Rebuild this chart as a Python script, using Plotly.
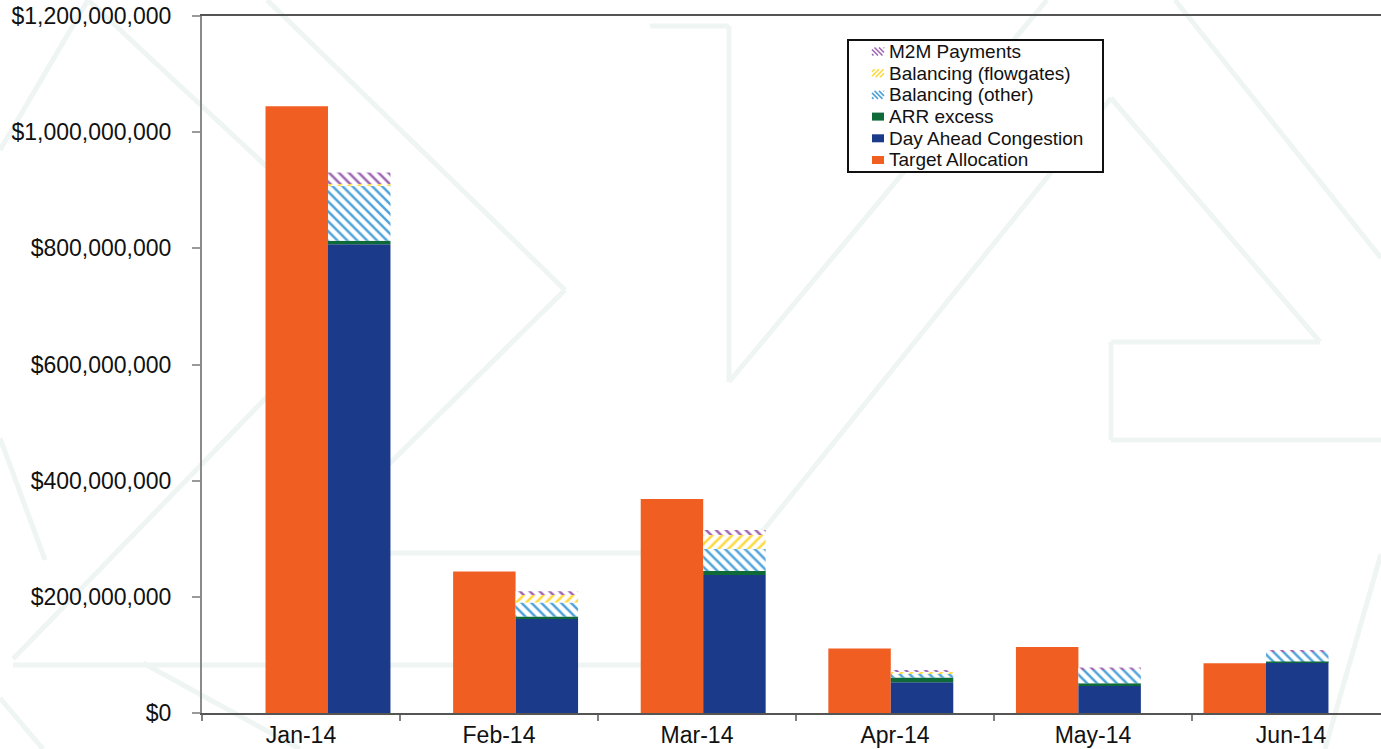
import numpy as np
import plotly.graph_objects as go

# ---------------- data ----------------
months = ["Jan-14", "Feb-14", "Mar-14", "Apr-14", "May-14", "Jun-14"]
target_allocation = [1044.7e6, 243.8e6, 368.4e6, 111.2e6, 113.8e6, 85.7e6]
day_ahead = [807.0e6, 161.9e6, 237.6e6, 52.9e6, 46.3e6, 87.2e6]
arr_excess = [5.9e6, 4.1e6, 6.9e6, 8.2e6, 5.0e6, 1.5e6]
balancing_other = [96.0e6, 24.3e6, 37.9e6, 6.6e6, 23.8e6, 17.5e6]
balancing_flowgates = [1.7e6, 12.9e6, 24.1e6, 3.2e6, 0.0, 0.0]
m2m_payments = [19.8e6, 6.4e6, 8.6e6, 2.6e6, 3.3e6, 2.3e6]

y_ticks = [0, 200e6, 400e6, 600e6, 800e6, 1000e6, 1200e6]

# ---------------- styling ----------------
FONT = "Liberation Sans, Arial, sans-serif"
W, H = 1381, 749
ML, MR, MT, MB = 202, 0, 16, 36
PW, PH = W - ML - MR, H - MT - MB


def px(x):
    return (x - ML) / PW


def py(y):
    return (H - MB - y) / PH


BAR_W = 0.333
ORANGE = "#F15E22"
BLUE = "#1B3A8A"
GREEN = "#0F6A3A"
LBLUE = "#4FA3DA"
YELLOW = "#FFD83A"
PURPLE = "#9E64B2"
TXT = "#111111"

fig = go.Figure()

fig.add_trace(go.Bar(
    name="Target Allocation", x=months, y=target_allocation,
    offset=-BAR_W, width=BAR_W, marker=dict(color=ORANGE, line=dict(width=0)),
    hoverinfo="skip", showlegend=False,
))

stack = [
    ("Day Ahead Congestion", day_ahead, BLUE, None),
    ("ARR excess", arr_excess, GREEN, None),
    ("Balancing (other)", balancing_other, LBLUE, "\\"),
    ("Balancing (flowgates)", balancing_flowgates, YELLOW, "/"),
    ("M2M Payments", m2m_payments, PURPLE, "\\"),
]
base = np.zeros(len(months))
for name, vals, col, shape in stack:
    vals = np.array(vals, dtype=float)
    marker = dict(color=col, line=dict(width=0))
    if shape:
        marker["pattern"] = dict(shape=shape, fgcolor=col, bgcolor="white",
                                 size=7, solidity=0.36, fillmode="replace")
    fig.add_trace(go.Bar(
        name=name, x=months, y=vals, base=base.copy(),
        offset=0, width=BAR_W, marker=marker, hoverinfo="skip",
        showlegend=False,
    ))
    base = base + vals

# invisible helper trace defining the labelled category axis
fig.add_trace(go.Scatter(
    x=months, y=[0] * len(months), xaxis="x2", mode="markers",
    marker=dict(opacity=0), showlegend=False, hoverinfo="skip",
))

# ---------------- faint background watermark ----------------
WM = "#EFF5F3"
wm_paths = [
    [(0, 150), (88, 0), (384, 276), (13, 659)],
    [(267, 0), (565, 290), (299, 553), (745, 553), (1111, 98), (1320, 342),
     (1111, 342), (1111, 440), (1381, 440)],
    [(650, 26), (729, 26), (729, 382), (1047, 0)],
    [(13, 665), (700, 665)],
    [(0, 698), (43, 749)],
    [(143, 663), (300, 749)],
    [(0, 438), (45, 560)],
    [(1175, 0), (1381, 258)],
    [(1381, 554), (1325, 749)],
]
shapes = []
for pts in wm_paths:
    for (xa, ya), (xb, yb) in zip(pts[:-1], pts[1:]):
        shapes.append(dict(
            type="line", xref="paper", yref="paper", layer="below",
            x0=px(xa), y0=py(ya), x1=px(xb), y1=py(yb),
            line=dict(color=WM, width=5),
        ))

# ---------------- legend (drawn to match the original's compact box) ----------------
LEG_X0, LEG_X1, LEG_Y0, LEG_Y1 = 848, 1103, 40, 172
ROW0, ROW_STEP = 51.5, 21.7
SYM_X0, SYM_W, SYM_H = 872, 12, 8
TEXT_X = 887

annotations = []
shapes.append(dict(
    type="rect", xref="paper", yref="paper", layer="above",
    x0=px(LEG_X0), x1=px(LEG_X1), y0=py(LEG_Y1), y1=py(LEG_Y0),
    line=dict(color=TXT, width=2), fillcolor="white",
))
legend_entries = [(n, c, s) for n, _, c, s in reversed(stack)] + [("Target Allocation", ORANGE, None)]
for i, (name, col, shape) in enumerate(legend_entries):
    cy = ROW0 + i * ROW_STEP
    x0, x1 = SYM_X0, SYM_X0 + SYM_W
    y0, y1 = cy - SYM_H / 2, cy + SYM_H / 2
    if shape is None:
        shapes.append(dict(
            type="rect", xref="paper", yref="paper", layer="above",
            x0=px(x0), x1=px(x1), y0=py(y1), y1=py(y0),
            line=dict(width=0), fillcolor=col,
        ))
    else:
        for c in np.arange(-20, 40, 4.5):
            if shape == "\\":  # x - y' = c, y' measured from top of box
                xa, xb = max(x0, x0 + c), min(x1, x0 + c + SYM_H)
                if xb - xa < 0.5:
                    continue
                ya, yb = y0 + (xa - x0 - c), y0 + (xb - x0 - c)
            else:  # "/": x + y' = c
                xa, xb = max(x0, x0 + c - SYM_H), min(x1, x0 + c)
                if xb - xa < 0.5:
                    continue
                ya, yb = y0 + (c - (xa - x0)), y0 + (c - (xb - x0))
            shapes.append(dict(
                type="line", xref="paper", yref="paper", layer="above",
                x0=px(xa), y0=py(ya), x1=px(xb), y1=py(yb),
                line=dict(color=col, width=1.6),
            ))
    annotations.append(dict(
        text=name, x=px(TEXT_X), y=py(cy), xref="paper", yref="paper",
        xanchor="left", yanchor="middle", showarrow=False,
        font=dict(family=FONT, size=19, color=TXT),
    ))

fig.update_layout(
    width=W, height=H,
    margin=dict(l=ML, r=MR, t=MT, b=MB, pad=0, autoexpand=False),
    paper_bgcolor="white", plot_bgcolor="rgba(0,0,0,0)",
    barmode="overlay",
    font=dict(family=FONT, size=23, color=TXT),
    shapes=shapes,
    annotations=annotations,
    showlegend=False,
    xaxis=dict(
        type="category", range=[-0.6716, 5.613], visible=False,
        showgrid=False, zeroline=False, fixedrange=True, automargin=False,
    ),
    xaxis2=dict(
        type="category", overlaying="x", anchor="y", side="bottom",
        range=[-0.5, -0.5 + PW / 198.0], automargin=False,
        tickson="boundaries", ticks="outside", ticklen=6, tickwidth=1.5,
        tickcolor="#808080", showline=True, linecolor="#555555", linewidth=2,
        mirror=True, showgrid=False, zeroline=False,
        tickfont=dict(family=FONT, size=23, color=TXT),
    ),
    yaxis=dict(
        range=[0, 1.2e9], tickvals=y_ticks, tickformat="$,.0f", automargin=False,
        ticks="outside", ticklen=8, tickwidth=1.5, tickcolor="#9a9a9a",
        showline=True, linecolor="#8a8a8a", linewidth=2,
        showgrid=False, zeroline=False, ticklabelstandoff=16,
        tickfont=dict(family=FONT, size=23, color=TXT),
    ),
)

fig.write_html("out.html")
